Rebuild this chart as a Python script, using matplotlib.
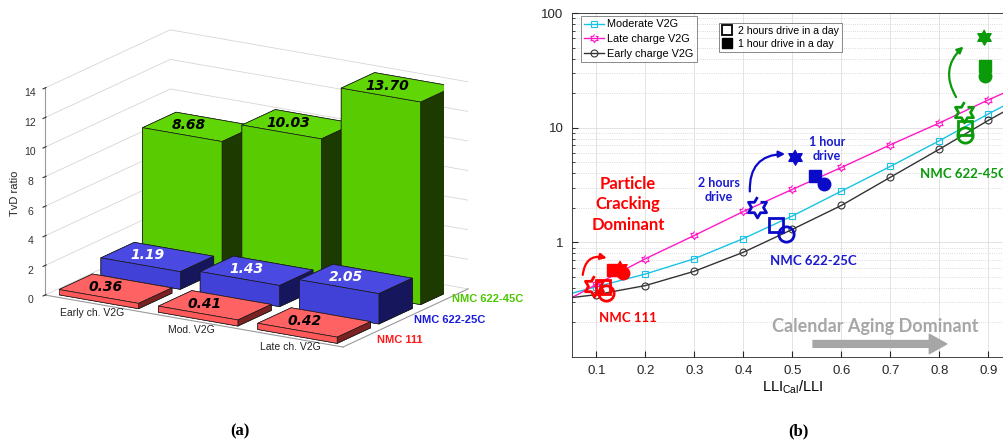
import numpy as np
import matplotlib
matplotlib.use('Agg')
import matplotlib.pyplot as plt
from matplotlib.lines import Line2D
from matplotlib.ticker import NullFormatter

plt.rcParams['font.family'] = ['Liberation Sans', 'DejaVu Sans']

# ---------------- TvD ratio per strategy and cell (bar chart) ----------------
strategies = ['Early ch. V2G', 'Mod. V2G', 'Late ch. V2G']
cells = ['NMC 111', 'NMC 622-25C', 'NMC 622-45C']
tvd_nmc111 = [0.36, 0.41, 0.42]
tvd_nmc622_25 = [1.19, 1.43, 2.05]
tvd_nmc622_45 = [8.68, 10.03, 13.70]

# ---------------- TvD vs LLI_cal/LLI curves ----------------
lli_frac = [0.05, 0.1, 0.2, 0.3, 0.4, 0.5, 0.6, 0.7, 0.8, 0.9, 1.0]
tvd_moderate = [0.36, 0.41, 0.53, 0.72, 1.08, 1.70, 2.8, 4.6, 7.7, 13.2, 22.0]
tvd_late = [0.33, 0.43, 0.72, 1.15, 1.86, 2.9, 4.5, 7.1, 11.0, 17.5, 27.0]
tvd_early = [0.33, 0.35, 0.42, 0.56, 0.82, 1.30, 2.1, 3.7, 6.5, 11.6, 20.0]

# cell results, 2 hours drive a day (open markers), order: NMC111, 622-25C, 622-45C
lli_2h_early = [0.120, 0.487, 0.853]
lli_2h_mod = [0.114, 0.466, 0.853]
lli_2h_late = [0.094, 0.428, 0.850]
# 1 hour drive a day (filled markers)
lli_1h_early = [0.154, 0.565, 0.893]
tvd_1h_early = [0.54, 3.2, 28.5]
lli_1h_mod = [0.133, 0.545, 0.893]
tvd_1h_mod = [0.57, 3.8, 34.6]
lli_1h_late = [0.147, 0.505, 0.890]
tvd_1h_late = [0.60, 5.5, 62.0]

# per-cell colours: (top, front, side) for the bars, label colour for text
bar_faces = [('#ff6262', '#ff5858', '#7a2222'),
             ('#4a4ae2', '#4141d8', '#16165c'),
             ('#60d606', '#58cc00', '#1d3a00')]
cell_label_cols = ['#ff1a1a', '#1a1ae0', '#4cc800']
cell_plot_cols = ['#ff0000', '#0a0ac8', '#0a9a0a']
value_txt_cols = ['black', 'white', 'black']

# 6-point star (MATLAB hexagram)
ang = np.deg2rad(np.arange(12) * 30 + 90)
rad = np.where(np.arange(12) % 2 == 0, 1.0, 1 / np.sqrt(3))
hexagram = np.column_stack([rad * np.cos(ang), rad * np.sin(ang)])

fig = plt.figure(figsize=(10.04, 4.43), dpi=100)

# ======================= (a) 3D bars =======================
ax3 = fig.add_axes([0.0588, 0.1287, 0.3832, 0.8684], projection='3d',
                   computed_zorder=False)
ax3.set_proj_type('ortho')
ax3.view_init(elev=16.54, azim=-58.49)
ax3.set_box_aspect((349.4, 239.5, 216.0), zoom=1.2)
ax3.set_xlim(0.5, 3.5)
ax3.set_ylim(0.5, 3.5)
ax3.set_zlim(0, 14)

for axis in (ax3.xaxis, ax3.yaxis, ax3.zaxis):
    axis.set_pane_color((1, 1, 1, 0))
    axis.pane.set_edgecolor((1, 1, 1, 0))
    axis.line.set_color('#9a9a9a')
    axis.line.set_linewidth(0.8)
ax3.set_xticks([])
ax3.set_yticks([])
ax3.set_zticks(np.arange(0, 15, 2))
ax3.zaxis.set_ticks_position('lower')
ax3.zaxis._axinfo['grid'].update(color='#d6d6d6', linewidth=0.6)
ax3.tick_params(axis='z', labelsize=7.5, colors='#333333', pad=-3)

rows = [tvd_nmc111, tvd_nmc622_25, tvd_nmc622_45]
z = 1
for j in (2, 1, 0):
    top, front, side = bar_faces[j]
    for i in range(3):
        h = rows[j][i]
        # face order: -z, +z, -y, +y, -x, +x
        ax3.bar3d(i + 1 - 0.4, j + 1 - 0.4, 0, 0.8, 0.8, h,
                  color=[front, top, front, front, front, side],
                  shade=False, edgecolor='#1a1a1a', linewidth=0.5, zorder=z)
        z += 1

for j in range(3):
    for i in range(3):
        h = rows[j][i]
        ax3.text(i + 1 - 0.1, j + 1, h, f'{h:.2f}', ha='center', va='center',
                 rotation=-10, fontsize=10, family='DejaVu Sans',
                 fontweight='bold', fontstyle='italic',
                 color=value_txt_cols[j], zorder=50)

for i, name in enumerate(strategies):
    ax3.text(i + 1 + 0.12, 0.15, 0, name, ha='center', va='center',
             rotation=-10, fontsize=7.5, color='#222222', zorder=60)
for j, name in enumerate(cells):
    ax3.text(3.63 - 0.04 * j, j + 1, 0, name, ha='left', va='center', rotation=-10,
             rotation_mode='anchor', fontsize=8, fontweight='bold',
             color=cell_label_cols[j], zorder=60)

fig.text(15 / 1004, 1 - 193 / 443, 'TvD ratio', rotation=90, fontsize=8,
         ha='center', va='center', color='#222222')

# ======================= (b) TvD vs LLI ratio =======================
ax = fig.add_axes([0.5697, 0.1941, 0.4392, 0.7765])
ax.set_yscale('log')
ax.set_xlim(0.05, 0.95)
ax.set_ylim(0.1, 100)

ax.plot(lli_frac, tvd_moderate, '-', color='#19c3e6', lw=1.0, marker='s',
        ms=4.5, mfc='none', mew=0.8, markevery=slice(1, None), label='Moderate V2G')
ax.plot(lli_frac, tvd_late, '-', color='#ff19c8', lw=1.0, marker=hexagram,
        ms=6, mfc='none', mew=0.8, markevery=slice(1, None), label='Late charge V2G')
ax.plot(lli_frac, tvd_early, '-', color='#333333', lw=1.0, marker='o',
        ms=5, mfc='none', mew=0.8, markevery=slice(1, None), label='Early charge V2G')

tvd_2h_early = [tvd_nmc111[0], tvd_nmc622_25[0], tvd_nmc622_45[0]]
tvd_2h_mod = [tvd_nmc111[1], tvd_nmc622_25[1], tvd_nmc622_45[1]]
tvd_2h_late = [tvd_nmc111[2], tvd_nmc622_25[2], tvd_nmc622_45[2]]

for k in range(3):
    c = cell_plot_cols[k]
    ax.plot(lli_2h_late[k], tvd_2h_late[k], marker=hexagram, ms=15, mfc='none',
            mec=c, mew=2, ls='none')
    ax.plot(lli_2h_mod[k], tvd_2h_mod[k], marker='s', ms=10, mfc='none',
            mec=c, mew=2, ls='none')
    ax.plot(lli_2h_early[k], tvd_2h_early[k], marker='o', ms=11, mfc='none',
            mec=c, mew=2, ls='none')
    ax.plot(lli_1h_late[k], tvd_1h_late[k], marker=hexagram, ms=11, color=c,
            ls='none')
    ax.plot(lli_1h_mod[k], tvd_1h_mod[k], marker='s', ms=8, color=c, ls='none')
    ax.plot(lli_1h_early[k], tvd_1h_early[k], marker='o', ms=9, color=c,
            ls='none')

# curved arrows from 2 h to 1 h drive
arrow_kw = dict(arrowstyle='-|>', lw=1.6, mutation_scale=9, shrinkA=0, shrinkB=0)
ax.annotate('', xy=(0.121, 0.73), xytext=(0.072, 0.52),
            arrowprops=dict(color='#ff0000', connectionstyle='arc3,rad=-0.55', **arrow_kw))
ax.annotate('', xy=(0.485, 5.9), xytext=(0.413, 2.78),
            arrowprops=dict(color='#0a0ac8', connectionstyle='arc3,rad=-0.5', **arrow_kw))
ax.annotate('', xy=(0.849, 51), xytext=(0.834, 18.5),
            arrowprops=dict(color='#0a9a0a', connectionstyle='arc3,rad=-0.4', **arrow_kw))
ax.annotate('', xy=(0.815, 0.13), xytext=(0.542, 0.13),
            arrowprops=dict(arrowstyle='simple,head_length=0.9,head_width=1.0,tail_width=0.35',
                            color='#a6a6a6', mutation_scale=14, shrinkA=0, shrinkB=0))

ann = dict(family=['Lato', 'DejaVu Sans'], fontweight='bold', ha='center', va='center')
ax.text(0.164, 2.14, 'Particle\nCracking\nDominant', color='#ff0000', fontsize=12,
        linespacing=1.35, **ann)
ax.text(0.35, 2.86, '2 hours\ndrive', color='#1a1ad0', fontsize=9, linespacing=1.2, **ann)
ax.text(0.57, 6.5, '1 hour\ndrive', color='#1a1ad0', fontsize=9, linespacing=1.2, **ann)
ax.text(0.848, 3.98, 'NMC 622-45C', color='#0a9a0a', fontsize=9.5, **ann)
ax.text(0.542, 0.684, 'NMC 622-25C', color='#1a1ad0', fontsize=9.5, **ann)
ax.text(0.164, 0.218, 'NMC 111', color='#ff0000', fontsize=9.5, **ann)
ax.text(0.670, 0.186, 'Calendar Aging Dominant', color='#a6a6a6', fontsize=13, **ann)

ax.set_yticks([1, 10, 100])
ax.set_yticklabels(['1', '10', '100'])
ax.yaxis.set_minor_formatter(NullFormatter())
ax.set_xticks(np.arange(0.1, 0.95, 0.1))
ax.set_xticklabels([f'{v:.1f}' for v in np.arange(0.1, 0.95, 0.1)])
ax.tick_params(which='both', direction='in', labelsize=9.5, colors='#262626')
ax.tick_params(which='major', length=4, pad=6)
ax.tick_params(which='minor', length=2)
ax.grid(True, which='major', color='#dedede', lw=0.6)
ax.grid(True, which='minor', axis='y', color='#cfcfcf', ls=':', lw=0.6)
ax.set_axisbelow(True)
for s in ax.spines.values():
    s.set_color('#262626')
    s.set_linewidth(0.6)
ax.set_xlabel(r'LLI$_\mathregular{Cal}$/LLI', fontsize=10.5, labelpad=1)

leg1 = ax.legend(loc='upper left', bbox_to_anchor=(0.0204, 0.991), borderaxespad=0,
                 fontsize=7.8, frameon=True, fancybox=False, edgecolor='#555555',
                 handlelength=1.8, handletextpad=0.3, labelspacing=0.45,
                 borderpad=0.3)
leg1.get_frame().set_linewidth(0.6)
ax.add_artist(leg1)
drive_handles = [Line2D([], [], ls='none', marker='s', ms=7.5, mfc='none', mec='black', mew=1.3),
                 Line2D([], [], ls='none', marker='s', ms=7.5, color='black')]
leg2 = ax.legend(drive_handles, ['2 hours drive in a day', '1 hour drive in a day'],
                 loc='upper left', bbox_to_anchor=(0.333, 0.971), borderaxespad=0,
                 fontsize=7.6, frameon=True, fancybox=False, edgecolor='#555555',
                 handlelength=1.0, handletextpad=0.5, labelspacing=0.25, borderpad=0.3)
leg2.get_frame().set_linewidth(0.6)

fig.text(240 / 1004, 1 - 431 / 443, '(a)', family=['Liberation Serif'], fontweight='bold',
         fontsize=12, ha='center', va='center')
fig.text(798 / 1004, 1 - 431 / 443, '(b)', family=['Liberation Serif'], fontweight='bold',
         fontsize=12, ha='center', va='center')

fig.savefig('out.png', dpi=100, facecolor='white')
